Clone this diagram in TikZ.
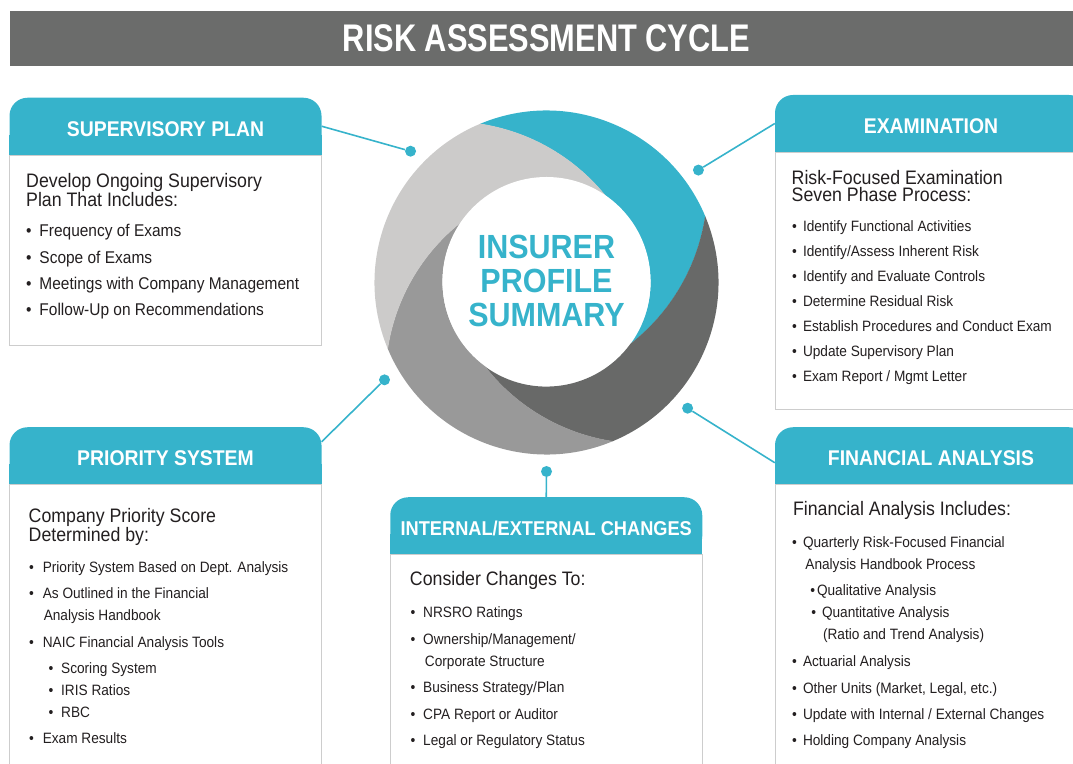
\documentclass[tikz,border=0pt]{standalone}
\usepackage{fontspec}
\setmainfont{Liberation Sans}[FakeStretch=0.91]
\newfontfamily\barfont{Liberation Sans}[FakeStretch=0.8]
\usetikzlibrary{positioning, backgrounds}

\definecolor{capteal}{HTML}{36B3CB}
\definecolor{ringdark}{HTML}{686968}
\definecolor{ringmid}{HTML}{999999}
\definecolor{ringlight}{HTML}{CCCBCA}
\definecolor{bargray}{HTML}{6B6C6B}
\definecolor{framegray}{HTML}{CDCDCD}
\definecolor{ink}{HTML}{231F20}

\newcommand{\bul}[1][11pt]{\makebox[#1][l]{\textbullet}}

\tikzset{
  header/.style={fill=capteal, rounded corners=18pt, minimum width=312pt,
    minimum height=57pt, inner sep=0, text=white,
    font=\bfseries\fontsize{21.3}{24}\selectfont, text height=20pt, text depth=0pt},
  panel/.style={draw=framegray, line width=1pt, fill=white,
    minimum width=312pt, inner sep=0},
  headtext/.style={anchor=base west, align=left, inner sep=0, text=ink,
    font=\fontsize{19.5}{17.5}\selectfont},
  listtext/.style={anchor=base west, align=left, inner sep=0, text=ink,
    font=\fontsize{15}{22}\selectfont},
  link/.style={draw=capteal, line width=1.6pt},
  dot/.style={circle, fill=capteal, minimum size=11pt, inner sep=0}
}

\begin{document}
\begin{tikzpicture}[x=1pt, y=1pt]

\useasboundingbox (0,0) rectangle (1073,763);
\clip (0,0) rectangle (1073,763);

% Title bar
\node[fill=bargray,
    minimum width=1073pt,
    minimum height=55pt,
    text=white,
    font=\barfont\bfseries\fontsize{38.5}{40}\selectfont
] (title) at (546.5,724.5) {RISK ASSESSMENT CYCLE};

% Ring
\coordinate (hub) at (546.5,480.5);
\foreach \col [count=\k from 0] in {capteal, ringdark, ringmid, ringlight}
  \fill[\col, shift={(hub)}, rotate=-90*\k] (112.6:172)
    arc[start angle=112.6, end angle=22.6, radius=172]
    arc[start angle=-8.7, end angle=-52, radius=200]
    arc[start angle=-36, end angle=54, radius=104]
    arc[start angle=38, end angle=81.3, radius=200] -- cycle;

\node[circle,
    fill=white,
    minimum size=208pt,
    inner sep=0,
    align=center,
    text=capteal,
    font=\bfseries\fontsize{33.5}{34}\selectfont
] (core) at ([yshift=1.5pt]hub) {INSURER\\PROFILE\\SUMMARY};

% Dots
\node[dot] (dSup) at ([shift={(136:189)}]hub) {};
\node[dot] (dExam) at ([shift={(36.5:189)}]hub) {};
\node[dot] (dFin) at ([shift={(-41.7:189)}]hub) {};
\node[dot] (dInt) at ([shift={(-90:189)}]hub) {};
\node[dot] (dPri) at ([shift={(-149:189)}]hub) {};

% Headers
\node[header] (hSup) at (165.5,636.75) {SUPERVISORY PLAN};
\node[header] (hExam) at (931,639.5) {EXAMINATION};
\node[header] (hPri) at (165.5,307.25) {PRIORITY SYSTEM};
\node[header, font=\bfseries\fontsize{20}{24}\selectfont] (hInt) at (546.25,237.25) {INTERNAL/EXTERNAL CHANGES};
\node[header] (hFin) at (931,307.25) {FINANCIAL ANALYSIS};

\begin{scope}[on background layer]
\foreach \h in {hSup, hExam, hPri, hInt, hFin}
  \fill[capteal] (\h.south west) rectangle ([yshift=20pt]\h.south east);
\end{scope}

% Bodies
\node[panel, minimum height=190pt, below=0pt of hSup] (bSup) {};
\node[panel, minimum height=257pt, below=0pt of hExam] (bExam) {};
\node[panel, minimum height=320pt, below=0pt of hPri] (bPri) {};
\node[panel, minimum height=260pt, below=0pt of hInt] (bInt) {};
\node[panel, minimum height=320pt, below=0pt of hFin] (bFin) {};

% Supervisory plan (nodes sit on their last baseline)
\node[headtext] (tSup) at ([xshift=17pt, yshift=-51.5pt]bSup.north west)
  {Develop Ongoing Supervisory\\Plan That Includes:};
\node[listtext, font=\fontsize{17}{26.3}\selectfont] (lSup)
  at ([xshift=17pt, yshift=-160.9pt]bSup.north west) {%
  \bul[13.3pt]Frequency of Exams\\
  \bul[13.3pt]Scope of Exams\\
  \bul[13.3pt]Meetings with Company Management\\
  \bul[13.3pt]Follow-Up on Recommendations};

% Examination
\node[headtext] (tExam) at ([xshift=17pt, yshift=-49.8pt]bExam.north west)
  {Risk-Focused Examination\\Seven Phase Process:};
\node[listtext, font=\fontsize{15}{25}\selectfont] (lExam)
  at ([xshift=17.5pt, yshift=-229.7pt]bExam.north west) {%
  \bul[10.8pt]Identify Functional Activities\\
  \bul[10.8pt]Identify/Assess Inherent Risk\\
  \bul[10.8pt]Identify and Evaluate Controls\\
  \bul[10.8pt]Determine Residual Risk\\
  \bul[10.8pt]Establish Procedures and Conduct Exam\\
  \bul[10.8pt]Update Supervisory Plan\\
  \bul[10.8pt]Exam Report / Mgmt Letter};

% Priority system
\node[headtext, font=\fontsize{19.5}{19}\selectfont] (tPri)
  at ([xshift=19.5pt, yshift=-56.7pt]bPri.north west)
  {Company Priority Score\\Determined by:};
\node[listtext] (lPri) at ([xshift=20pt, yshift=-258.7pt]bPri.north west) {%
  \bul[13.6pt]Priority System Based on Dept. Analysis\\[4pt]
  \bul[13.6pt]As Outlined in the Financial\\
  \hspace*{14.6pt}Analysis Handbook\\[5pt]
  \bul[13.6pt]NAIC Financial Analysis Tools\\[4pt]
  \hspace*{19.4pt}\bul[12.6pt]Scoring System\\
  \hspace*{19.4pt}\bul[12.6pt]IRIS Ratios\\
  \hspace*{19.4pt}\bul[12.6pt]RBC\\[4pt]
  \bul[13.6pt]Exam Results};

% Internal/external changes
\node[headtext] (tInt) at ([xshift=20pt, yshift=-31pt]bInt.north west)
  {Consider Changes To:};
\node[listtext] (lInt) at ([xshift=20.7pt, yshift=-191.3pt]bInt.north west) {%
  \bul[12.6pt]NRSRO Ratings\\[5pt]
  \bul[12.6pt]Ownership/Management/\\
  \hspace*{14.3pt}Corporate Structure\\[4pt]
  \bul[12.6pt]Business Strategy/Plan\\[5pt]
  \bul[12.6pt]CPA Report or Auditor\\[4pt]
  \bul[12.6pt]Legal or Regulatory Status};

% Financial analysis
\node[headtext] (tFin) at ([xshift=18.3pt, yshift=-31pt]bFin.north west)
  {Financial Analysis Includes:};
\node[listtext] (lFin) at ([xshift=17.4pt, yshift=-261.3pt]bFin.north west) {%
  \bul[10.9pt]Quarterly Risk-Focused Financial\\
  \hspace*{13.3pt}Analysis Handbook Process\\[4pt]
  \hspace*{18.3pt}\bul[6.6pt]Qualitative Analysis\\
  \hspace*{19.3pt}\bul[10.6pt]Quantitative Analysis\\
  \hspace*{30.9pt}(Ratio and Trend Analysis)\\[5pt]
  \bul[10.9pt]Actuarial Analysis\\[5pt]
  \bul[10.9pt]Other Units (Market, Legal, etc.)\\[4pt]
  \bul[10.9pt]Update with Internal / External Changes\\[4pt]
  \bul[10.9pt]Holding Company Analysis};

% Links
\draw[link] (dSup) -- (hSup.east);
\draw[link] (dExam) -- (hExam.west);
\draw[link] (dPri) -- ([yshift=14pt]hPri.east);
\draw[link] (dInt) -- (hInt.north);
\draw[link] (dFin) -- ([yshift=-7pt]hFin.west);

\end{tikzpicture}
\end{document}
